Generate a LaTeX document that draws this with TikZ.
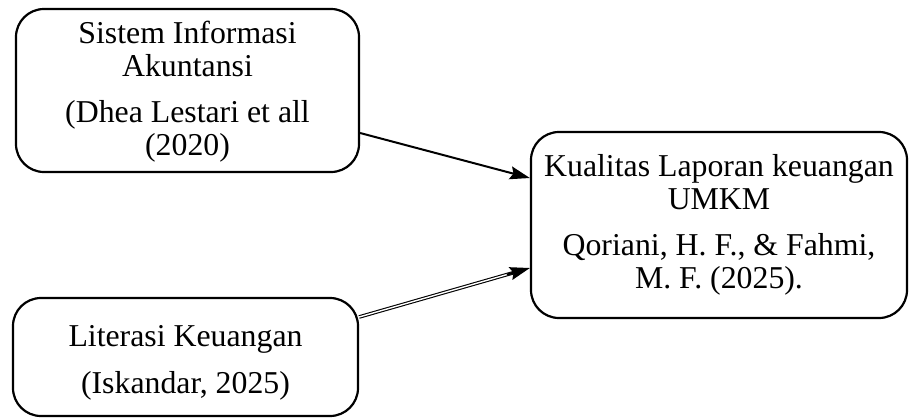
\documentclass[tikz,border=0pt]{standalone}
\usepackage{fontspec}
\setmainfont{Liberation Serif}
\usetikzlibrary{arrows.meta,calc}
\begin{document}
\begin{tikzpicture}[x=0.5pt,y=-0.5pt,
  box/.style={draw, line width=1.1pt, rounded corners=14pt, align=center,
    font=\fontsize{15.9pt}{16.6pt}\selectfont, inner sep=0pt},
  conn/.style={line width=1pt, -{Stealth[length=10pt,width=6.5pt,inset=1.5pt]}}]
\useasboundingbox (0,0) rectangle (909,418);
\node[box, minimum width=171.5pt, minimum height=81.5pt] (b1) at (187.5,90.5)
  {\rule{0pt}{12.5pt}Sistem Informasi\\Akuntansi\\[6.2pt](Dhea Lestari et all\\(2020)};
\node[box, minimum width=188pt, minimum height=93pt] (b2) at (719,225)
  {Kualitas Laporan keuangan\\UMKM\\[6.2pt]Qoriani, H. F., \& Fahmi,\\M. F. (2025).};
\node[box, minimum width=172.5pt, minimum height=59pt] (b3) at (185.5,357)
  {\rule{0pt}{16pt}Literasi Keuangan\\[7pt](Iskandar, 2025)};
\coordinate (s1) at ([yshift=-21.25pt]b1.east);
\coordinate (t1) at ([yshift=23.5pt]b2.west);
\coordinate (s2) at ([yshift=20pt]b3.east);
\coordinate (t2) at ([yshift=-21.5pt]b2.west);
\draw[conn] (s1) -- (t1);
\draw[double, double distance=0.7pt, line width=0.55pt, shorten >=8pt] (s2) -- (t2);
\draw[conn] ($(t2)!12pt!(s2)$) -- (t2);
\end{tikzpicture}
\end{document}
